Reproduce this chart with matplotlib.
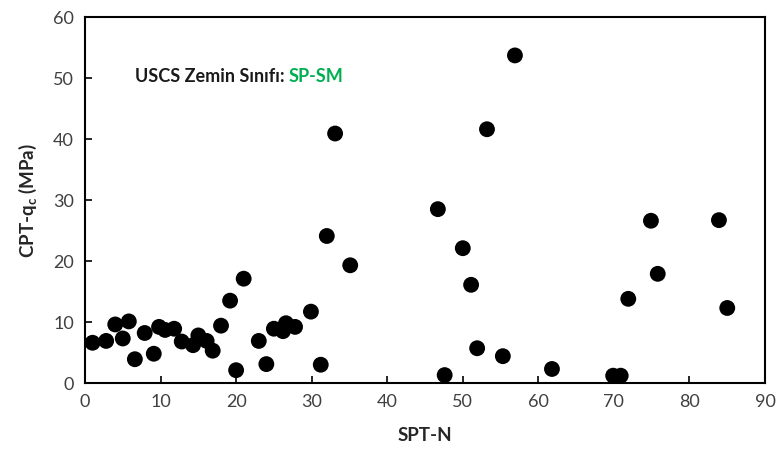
import matplotlib
matplotlib.use("Agg")
import matplotlib.pyplot as plt

plt.rcParams['font.family'] = ['Lato', 'DejaVu Sans']
plt.rcParams['mathtext.fontset'] = 'custom'
plt.rcParams['mathtext.rm'] = 'Lato'
plt.rcParams['mathtext.bf'] = 'Lato:bold'

spt_n = [1.0, 2.8, 4.0, 5.0, 5.8, 6.6, 7.9, 9.1, 9.8, 10.6, 11.8, 12.8, 14.3, 15.0,
         16.1, 16.9, 18.0, 19.2, 20.0, 21.0, 23.0, 24.0, 25.0, 26.2, 26.6, 27.8,
         29.9, 31.2, 32.0, 33.1, 35.1, 46.7, 47.6, 50.0, 51.1, 51.9, 53.2, 55.3,
         56.9, 61.8, 69.9, 70.9, 71.9, 74.9, 75.8, 83.9, 85.0]
cpt_qc = [6.6, 6.9, 9.6, 7.3, 10.1, 3.9, 8.2, 4.8, 9.2, 8.7, 8.9, 6.8, 6.2, 7.8,
          6.9, 5.3, 9.4, 13.5, 2.1, 17.1, 6.9, 3.1, 8.9, 8.5, 9.8, 9.2,
          11.7, 3.0, 24.1, 40.9, 19.3, 28.5, 1.3, 22.1, 16.1, 5.7, 41.6, 4.4,
          53.7, 2.3, 1.2, 1.2, 13.8, 26.6, 17.9, 26.7, 12.3]

xticks = [0, 10, 20, 30, 40, 50, 60, 70, 80, 90]
yticks = [0, 10, 20, 30, 40, 50, 60]

fig = plt.figure(figsize=(7.77, 4.57), dpi=100)
ax = fig.add_axes([0.1094, 0.1619, 0.8752, 0.8009])

ax.scatter(spt_n, cpt_qc, s=130, color='black', edgecolors='none', zorder=3, clip_on=False)

ax.set_xlim(0, 90)
ax.set_ylim(0, 60)
ax.set_xticks(xticks)
ax.set_yticks(yticks)
ax.tick_params(direction='in', length=5, width=1.2, labelsize=13, colors='black',
               labelcolor='#404040', pad=8)
for sp in ax.spines.values():
    sp.set_linewidth(1.5)
    sp.set_color('black')

ax.set_xlabel('SPT-N', fontsize=13.5, fontweight='bold', labelpad=12, color='#262626')
ax.set_ylabel(r'CPT-q$_\mathbf{c}$ (MPa)', fontsize=13.5, fontweight='bold', labelpad=10, color='#262626')

t1 = ax.text(6.6, 50.3, 'USCS Zemin Sınıfı: ', fontsize=13, fontweight='bold',
             color='#1a1a1a', va='center', ha='left')
fig.canvas.draw()
bb = t1.get_window_extent()
x_end = ax.transData.inverted().transform((bb.x1, bb.y0))[0]
ax.text(x_end, 50.3, 'SP-SM', fontsize=13, fontweight='bold', color='#00B050',
        va='center', ha='left')

fig.savefig('out.png', dpi=100)
